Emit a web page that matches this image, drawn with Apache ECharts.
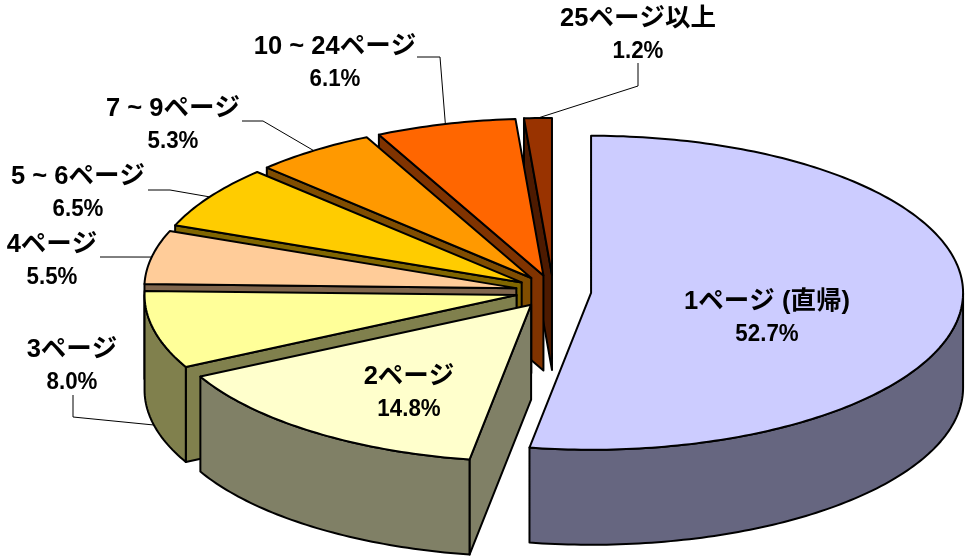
<!DOCTYPE html>
<html>
<head>
<meta charset="utf-8">
<style>
  html, body { margin: 0; padding: 0; background: #fff; }
  #chart { width: 967px; height: 559px; }
</style>
<script src="https://cdn.jsdelivr.net/npm/echarts@6/dist/echarts.min.js"></script>
</head>
<body>
<div id="chart"></div>
<script>
  var names = ['1ページ (直帰)', '2ページ', '3ページ', '4ページ', '5 ~ 6ページ', '7 ~ 9ページ', '10 ~ 24ページ', '25ページ以上']
  var values = [52.7, 14.8, 8.0, 5.5, 6.5, 5.3, 6.1, 1.2]

  var topColors = ['#CCCCFF', '#FFFFCC', '#FFFF99', '#FFCC99', '#FFCC00', '#FF9900', '#FF6600', '#993300']
  var sideColors = ['#666680', '#808066', '#80804D', '#80664D', '#806600', '#804D00', '#803300', '#4D1A00']

  // where the two line labels sit, centre of the name line
  var labelPos = [[767, 302], [409, 377], [72, 350], [52, 245], [78, 177], [173, 109], [335, 47], [638, 19]]
  // leader line start + elbow, the end is found from the slice itself
  var leaders = [null, null,
    [[73, 395], [73, 417]],
    [[100, 257], [122, 257]],
    [[148, 190], [170, 190]],
    [[242, 121], [263, 121]],
    [[417, 57], [440, 57]],
    [[638, 63], [638, 86]]]

  // pie shape
  var cx = 553.4, cy = 291.4
  var rx = 372, ry = 157
  var explodeX = 37.8, explodeY = 16.5
  var depth = 95

  var total = values.reduce(function (a, b) { return a + b }, 0)

  function rim(apex, deg) {
    var r = deg * Math.PI / 180
    return [apex[0] + rx * Math.sin(r), apex[1] - ry * Math.cos(r)]
  }
  function arcPoints(apex, from, to) {
    var pts = []
    var n = Math.max(2, Math.ceil(to - from))
    for (var i = 0; i <= n; i++) {
      pts.push(rim(apex, from + (to - from) * i / n))
    }
    return pts
  }
  function down(p) {
    return [p[0], p[1] + depth]
  }
  // a straight cut face shows when its outward normal looks down the screen
  function edgeVisible(apex, p, m) {
    var nx = -(p[1] - apex[1]), ny = p[0] - apex[0]
    if (nx * (m[0] - apex[0]) + ny * (m[1] - apex[1]) > 0) { ny = -ny }
    return ny > 0.001
  }

  var faceStyle = function (fill) {
    return { fill: fill, stroke: '#000', lineWidth: 2, lineJoin: 'round' }
  }

  function renderSlice(params, api) {
    var i = params.dataIndex
    var before = 0
    for (var k = 0; k < i; k++) { before += values[k] }
    var value = api.value(0)
    var start = before / total * 360
    var end = (before + value) / total * 360
    var mid = (start + end) / 2
    var midR = mid * Math.PI / 180
    var apex = [cx + explodeX * Math.sin(midR), cy - explodeY * Math.cos(midR)]
    var pStart = rim(apex, start), pEnd = rim(apex, end), pMid = rim(apex, mid)
    var base = (values.length - i) * 10
    var children = []

    ;[pStart, pEnd].forEach(function (p) {
      if (edgeVisible(apex, p, pMid)) {
        children.push({
          type: 'polygon', z2: base,
          shape: { points: [apex, p, down(p), down(apex)] },
          style: faceStyle(sideColors[i])
        })
      }
    })

    var from = Math.max(start, 90), to = Math.min(end, 270)
    if (to > from) {
      var arc = arcPoints(apex, from, to)
      children.push({
        type: 'polygon', z2: base + 1,
        shape: { points: arc.concat(arc.map(down).reverse()) },
        style: faceStyle(sideColors[i])
      })
    }

    children.push({
      type: 'polygon', z2: base + 2,
      shape: { points: [apex].concat(arcPoints(apex, start, end)) },
      style: faceStyle(topColors[i])
    })

    if (leaders[i]) {
      var endPt = (mid > 90 && mid < 270) ? down(pMid) : pMid
      children.push({
        type: 'polyline', z2: 500,
        shape: { points: leaders[i].concat([endPt]) },
        style: { fill: null, stroke: '#000', lineWidth: 1 }
      })
    }

    var font = { fontFamily: '"Liberation Sans", "Noto Sans CJK JP", sans-serif', fontWeight: 'bold', fill: '#000', align: 'center', verticalAlign: 'middle' }
    children.push({
      type: 'text', z2: 1000, x: labelPos[i][0], y: labelPos[i][1],
      style: Object.assign({ text: names[i], fontSize: 25.5 }, font)
    })
    // percent line is a bit narrow in the reference
    children.push({
      type: 'text', z2: 1000, x: labelPos[i][0], y: labelPos[i][1] + 32, scaleX: 0.93,
      style: Object.assign({ text: value.toFixed(1) + '%', fontSize: 24 }, font)
    })

    return { type: 'group', children: children }
  }

  var chart = echarts.init(document.getElementById('chart'))
  chart.setOption({
    animation: false,
    backgroundColor: '#fff',
    series: [{
      type: 'custom',
      coordinateSystem: 'none',
      silent: true,
      renderItem: renderSlice,
      data: values.map(function (v) { return [v] })
    }]
  })
</script>
</body>
</html>
